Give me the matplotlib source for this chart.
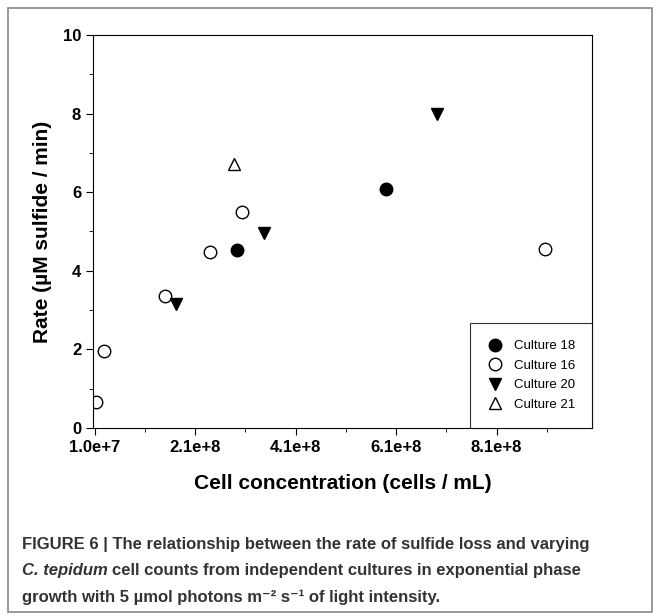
import numpy as np
import matplotlib.pyplot as plt
from matplotlib.patches import Rectangle
from matplotlib.ticker import FixedLocator, MultipleLocator

plt.rcParams['font.family'] = ['Liberation Sans', 'DejaVu Sans']

# Données
c18_x = [2.94e8, 5.9e8]
c18_y = [4.54, 6.09]
c16_x = [1.3e7, 2.9e7, 1.5e8, 2.4e8, 3.03e8, 9.06e8]
c16_y = [0.66, 1.95, 3.37, 4.49, 5.5, 4.56]
c20_x = [1.73e8, 3.47e8, 6.92e8]
c20_y = [3.15, 4.95, 7.99]
c21_x = [2.88e8]
c21_y = [6.71]
xticks = [1.0e7, 2.1e8, 4.1e8, 6.1e8, 8.1e8]
xtick_labels = ['1.0e+7', '2.1e+8', '4.1e+8', '6.1e+8', '8.1e+8']

fig = plt.figure(figsize=(6.6, 6.16), dpi=100)
fig.patches.append(Rectangle((8 / 660, 4 / 616), 644 / 660, 604 / 616, transform=fig.transFigure,
                             fill=False, edgecolor='#888888', linewidth=1.2))
ax = fig.add_axes([93 / 660, 1 - 428 / 616, 499 / 660, 393 / 616])

ms = 9
ax.plot(c18_x, c18_y, 'o', color='black', markersize=ms, label='Culture 18')
ax.plot(c16_x, c16_y, 'o', mfc='white', mec='black', markersize=ms, label='Culture 16')
ax.plot(c20_x, c20_y, 'v', color='black', markersize=ms, label='Culture 20')
ax.plot(c21_x, c21_y, '^', mfc='white', mec='black', markersize=ms, label='Culture 21')

ax.set_xlim(7e6, 1.0e9)
ax.set_ylim(0, 10)
ax.xaxis.set_major_locator(FixedLocator(xticks))
ax.xaxis.set_minor_locator(FixedLocator([1.1e8, 3.1e8, 5.1e8, 7.1e8, 9.1e8]))
ax.set_xticklabels(xtick_labels)
ax.yaxis.set_major_locator(MultipleLocator(2))
ax.yaxis.set_minor_locator(MultipleLocator(1))
ax.tick_params(direction='out', length=5, labelsize=12)
ax.tick_params(which='minor', length=3)
for lab in ax.get_xticklabels() + ax.get_yticklabels():
    lab.set_fontweight('bold')

ax.set_xlabel('Cell concentration (cells / mL)', fontsize=15, fontweight='bold', labelpad=14)
ax.set_ylabel('Rate (\u00b5M sulfide / min)', fontsize=15, fontweight='bold', labelpad=8)

leg = ax.legend(loc='lower right', fontsize=9.5, frameon=True, fancybox=False,
                edgecolor='black', borderaxespad=0, handletextpad=0.8, borderpad=1.3,
                handlelength=1.2, labelspacing=0.55)
leg.get_frame().set_linewidth(0.8)

# Légende de la figure (texte sous le graphique)
cap_color = '#333333'
cap_fs = 12
x0 = 22 / 660
fig.text(x0, 1 - 545 / 616,
         'FIGURE 6 | The relationship between the rate of sulfide loss and varying',
         fontsize=cap_fs, fontweight='bold', color=cap_color, va='center')
t1 = fig.text(x0, 1 - 571 / 616, 'C. tepidum', fontsize=cap_fs, fontweight='bold',
              style='italic', color=cap_color, va='center')
fig.canvas.draw()
bb = t1.get_window_extent()
fig.text(bb.x1 / fig.bbox.width + 4 / 660, 1 - 571 / 616,
         'cell counts from independent cultures in exponential phase',
         fontsize=cap_fs, fontweight='bold', color=cap_color, va='center')
fig.text(x0, 1 - 597 / 616,
         'growth with 5 \u00b5mol photons m\u207b\u00b2 s\u207b\u00b9 of light intensity.',
         fontsize=cap_fs, fontweight='bold', color=cap_color, va='center')

fig.savefig('out.png', dpi=100)
